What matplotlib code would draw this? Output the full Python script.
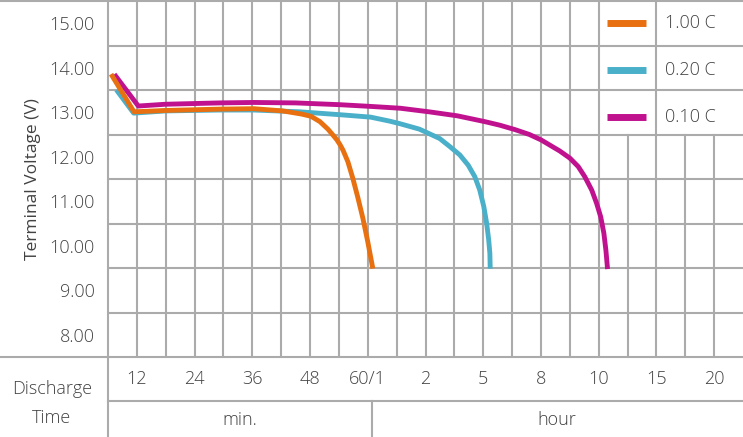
import matplotlib
matplotlib.use("Agg")
import matplotlib.pyplot as plt
from matplotlib.lines import Line2D

plt.rcParams['font.family'] = ['Open Sans', 'DejaVu Sans']
plt.rcParams['font.weight'] = 'light'

# posicoes no eixo x = colunas da grade (0..22)
x_1c = [0.15, 0.90, 2.0, 3.87, 5.05, 6.05, 6.70, 7.03, 7.34, 7.62, 7.79, 7.93, 8.03, 8.14, 8.31, 8.48, 8.65, 8.83, 9.00, 9.16]
v_1c = [13.81, 13.01, 13.04, 13.07, 13.08, 13.03, 12.96, 12.91, 12.79, 12.62, 12.49, 12.38, 12.28, 12.15, 11.89, 11.52, 11.10, 10.62, 10.09, 9.54]

x_02c = [0.34, 0.89, 2.0, 3.87, 5.05, 6.64, 8.13, 9.10, 9.76, 10.13, 10.79, 11.49, 11.84, 12.19, 12.48, 12.71, 12.88, 13.02, 13.12, 13.19, 13.23, 13.24]
v_02c = [13.46, 12.98, 13.03, 13.05, 13.05, 13.01, 12.94, 12.89, 12.80, 12.74, 12.62, 12.41, 12.23, 12.04, 11.81, 11.55, 11.25, 10.88, 10.50, 10.13, 9.83, 9.54]

x_01c = [0.27, 1.05, 2.0, 3.87, 5.05, 6.50, 8.03, 9.13, 10.13, 11.12, 12.10, 13.05, 13.57, 14.10, 14.60, 15.00, 15.65, 16.00, 16.29, 16.52, 16.76, 16.93, 17.07, 17.18, 17.25, 17.30]
v_01c = [13.81, 13.14, 13.18, 13.21, 13.22, 13.21, 13.17, 13.13, 13.09, 13.01, 12.92, 12.79, 12.71, 12.61, 12.50, 12.38, 12.13, 11.97, 11.78, 11.55, 11.25, 10.95, 10.65, 10.28, 9.90, 9.53]

rotulos_tempo = ['12', '24', '36', '48', '60/1', '2', '5', '8', '10', '15', '20']
pos_tempo = [1, 3, 5, 7, 9, 11, 13, 15, 17, 19, 21]
rotulos_tensao = ['8.00', '9.00', '10.00', '11.00', '12.00', '13.00', '14.00', '15.00']
legenda = ['1.00 C', '0.20 C', '0.10 C']

COR_LARANJA = '#E87011'
COR_AZUL = '#4AAFC9'
COR_MAGENTA = '#C0128E'
COR_GRADE = '#ABABAB'
COR_TEXTO = '#424242'

W, H = 743, 437
fig = plt.figure(figsize=(W / 100, H / 100), dpi=100)
ax = fig.add_axes([108 / W, (H - 357) / H, (743 - 108) / W, 356 / H])
ax.set_xlim(0, 22)
ax.set_ylim(7.5, 15.5)
for s in ax.spines.values():
    s.set_visible(False)

# grade (as colunas 18, 20 e 21 param embaixo da legenda)
for i in range(1, 22):
    topo = 12.5 if i in (18, 20, 21) else 15.5
    ax.plot([i, i], [7.5, topo], color=COR_GRADE, lw=1.5, zorder=1)
for j in range(8, 15):
    ax.axhline(j + 0.5, color=COR_GRADE, lw=1.5, zorder=1)

ax.plot(x_02c, v_02c, color=COR_AZUL, lw=3.5, zorder=3, solid_joinstyle='round')
ax.plot(x_01c, v_01c, color=COR_MAGENTA, lw=3.5, zorder=3, solid_joinstyle='round')
ax.plot(x_1c, v_1c, color=COR_LARANJA, lw=3.5, zorder=4, solid_joinstyle='round')

# legenda em forma de tabela
linhas_leg = [15.0, 13.95, 12.9]
cores = [COR_LARANJA, COR_AZUL, COR_MAGENTA]
for yv, c, nome in zip(linhas_leg, cores, legenda):
    ax.plot([17.3, 18.63], [yv, yv], color=c, lw=5, solid_capstyle='butt', zorder=3)
    ax.text(19.3, yv, nome, fontsize=13, color=COR_TEXTO, va='center', ha='left')

ax.set_yticks(range(8, 16))
ax.set_yticklabels(rotulos_tensao)
ax.set_xticks([])
ax.tick_params(axis='y', length=0, pad=9.5, labelsize=13, labelcolor=COR_TEXTO)
ax.set_ylabel('Terminal Voltage (V)', fontsize=12.5, color=COR_TEXTO, labelpad=6)

tr = ax.get_xaxis_transform()
for p, r in zip(pos_tempo, rotulos_tempo):
    ax.text(p, -22 / 356, r, transform=tr, ha='center', va='center',
            fontsize=13, color=COR_TEXTO, clip_on=False)

def px(x, y):
    return x / W, 1 - y / H

def linha(x0, y0, x1, y1):
    (a, b), (c, d) = px(x0, y0), px(x1, y1)
    fig.add_artist(Line2D([a, c], [b, d], color=COR_GRADE, lw=1.5))

linha(0, 1, 743, 1)
linha(0, 357, 743, 357)
linha(108, 401, 743, 401)
linha(108, 0, 108, 437)
linha(372, 401, 372, 437)

fig.text(*px(52, 389), 'Discharge', ha='center', va='center', fontsize=13, color=COR_TEXTO)
fig.text(*px(52, 418), 'Time', ha='center', va='center', fontsize=13, color=COR_TEXTO)
fig.text(*px(240, 420), 'min.', ha='center', va='center', fontsize=13, color=COR_TEXTO)
fig.text(*px(557, 420), 'hour', ha='center', va='center', fontsize=13, color=COR_TEXTO)

fig.savefig('out.png', dpi=100)
